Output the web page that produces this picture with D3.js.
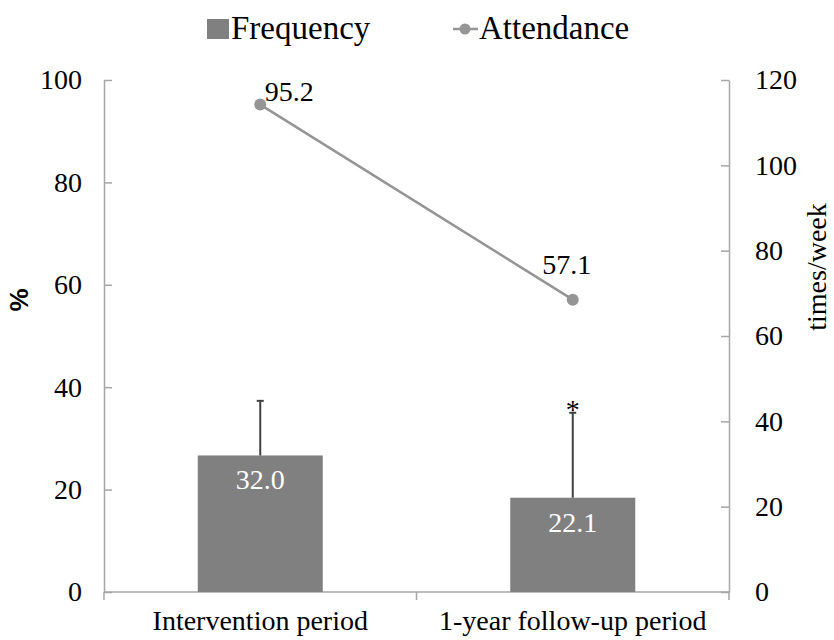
<!DOCTYPE html>
<html>
<head>
<meta charset="utf-8">
<script src="https://cdn.jsdelivr.net/npm/d3@7"></script>
<style>
  html, body { margin: 0; padding: 0; background: #fff; }
  svg { display: block; }
</style>
</head>
<body>
<svg id="chart" width="834" height="640"></svg>
<script>
// Data
const categories = ["Intervention period", "1-year follow-up period"];
const frequency = [32.0, 22.1];      // times/week (right axis)
const frequencySD = [12.8, 19.9];    // upper error bars
const attendance = [95.2, 57.1];     // % (left axis)
const significance = ["", "*"];
const leftTicks = [0, 20, 40, 60, 80, 100];
const rightTicks = [0, 20, 40, 60, 80, 100, 120];
const seriesNames = ["Frequency", "Attendance"];

// Layout
const serif = "'Liberation Serif', 'Times New Roman', serif";
const svg = d3.select("#chart").style("font-family", serif);
const plot = { left: 104, right: 729, top: 80, bottom: 592 };
const pointLabelOffset = [[29, -4], [-6, -26]];

const x = d3.scaleBand().domain(categories).range([plot.left, plot.right]).paddingInner(0.6).paddingOuter(0.3);
const xc = d3.scaleBand().domain(categories).range([plot.left, plot.right]);
const yL = d3.scaleLinear().domain([0, 100]).range([plot.bottom, plot.top]);
const yR = d3.scaleLinear().domain([0, 120]).range([plot.bottom, plot.top]);

const axisColor = "#a6a6a6";
const barColor = "#808080";
const lineColor = "#959595";

// Left axis (inner ticks)
const gL = svg.append("g").attr("transform", `translate(${plot.left},0)`)
  .call(d3.axisLeft(yL).tickValues(leftTicks).tickSizeInner(-8).tickSizeOuter(0).tickPadding(22));
// Right axis (inner ticks)
const gR = svg.append("g").attr("transform", `translate(${plot.right},0)`)
  .call(d3.axisRight(yR).tickValues(rightTicks).tickSizeInner(-8).tickSizeOuter(0).tickPadding(26));

[gL, gR].forEach(g => {
  g.attr("font-family", null).attr("font-size", null);
  g.select(".domain").attr("stroke", axisColor).attr("stroke-width", 1.5);
  g.selectAll(".tick line").attr("stroke", axisColor).attr("stroke-width", 1.5);
  g.selectAll(".tick text").style("font-family", serif).style("font-size", "28px").attr("fill", "#000");
});

// Category axis: baseline with ticks at category boundaries
const gX = svg.append("g").attr("transform", `translate(0,${plot.bottom})`);
gX.append("line").attr("x1", plot.left).attr("x2", plot.right).attr("y1", 0).attr("y2", 0)
  .attr("stroke", axisColor).attr("stroke-width", 1.5);
const bounds = categories.map(c => xc(c)).concat([plot.right]);
gX.selectAll("line.sep").data(bounds).join("line").attr("class", "sep")
  .attr("x1", d => d).attr("x2", d => d).attr("y1", 0).attr("y2", 8)
  .attr("stroke", axisColor).attr("stroke-width", 1.5);
gX.selectAll("text.cat").data(categories).join("text").attr("class", "cat")
  .attr("x", d => xc(d) + xc.bandwidth() / 2).attr("y", 38)
  .attr("text-anchor", "middle").style("font-size", "28px").attr("fill", "#000").text(d => d);

// Bars (frequency, right axis)
svg.selectAll("rect.bar").data(categories).join("rect").attr("class", "bar")
  .attr("x", d => x(d)).attr("width", x.bandwidth())
  .attr("y", (d, i) => yR(frequency[i])).attr("height", (d, i) => yR(0) - yR(frequency[i]))
  .attr("fill", barColor);

// Error bars
const cx = d => x(d) + x.bandwidth() / 2;
const eb = svg.selectAll("g.err").data(categories).join("g").attr("class", "err");
eb.append("line").attr("x1", cx).attr("x2", cx)
  .attr("y1", (d, i) => yR(frequency[i])).attr("y2", (d, i) => yR(frequency[i] + frequencySD[i]))
  .attr("stroke", "#404040").attr("stroke-width", 2);
eb.append("line").attr("x1", d => cx(d) - 3.5).attr("x2", d => cx(d) + 3.5)
  .attr("y1", (d, i) => yR(frequency[i] + frequencySD[i])).attr("y2", (d, i) => yR(frequency[i] + frequencySD[i]))
  .attr("stroke", "#404040").attr("stroke-width", 2);
svg.selectAll("text.sig").data(categories).join("text").attr("class", "sig")
  .attr("x", cx).attr("y", (d, i) => yR(frequency[i] + frequencySD[i]) + 6)
  .attr("text-anchor", "middle").style("font-size", "28px").attr("fill", "#000")
  .text((d, i) => significance[i]);

// Bar value labels
svg.selectAll("text.barlab").data(categories).join("text").attr("class", "barlab")
  .attr("x", cx).attr("y", (d, i) => yR(frequency[i]) + 34)
  .attr("text-anchor", "middle").style("font-size", "28px").attr("fill", "#fff")
  .text((d, i) => frequency[i].toFixed(1));

// Attendance line (left axis)
const line = d3.line().x(d => cx(d.c)).y(d => yL(d.v));
const pts = categories.map((c, i) => ({ c, v: attendance[i], i }));
svg.append("path").datum(pts).attr("d", line).attr("fill", "none")
  .attr("stroke", lineColor).attr("stroke-width", 2.5);
svg.selectAll("circle.pt").data(pts).join("circle").attr("class", "pt")
  .attr("cx", d => cx(d.c)).attr("cy", d => yL(d.v)).attr("r", 6).attr("fill", lineColor);
svg.selectAll("text.ptlab").data(pts).join("text").attr("class", "ptlab")
  .attr("x", d => cx(d.c) + pointLabelOffset[d.i][0]).attr("y", d => yL(d.v) + pointLabelOffset[d.i][1])
  .attr("text-anchor", "middle").style("font-size", "28px").attr("fill", "#000")
  .text(d => d.v.toFixed(1));

// Axis titles
svg.append("text").attr("transform", "translate(28,300) rotate(-90)")
  .attr("text-anchor", "middle").style("font-family", "'Liberation Sans', Arial, sans-serif")
  .style("font-weight", "bold").style("font-size", "26px").attr("fill", "#000").text("%");
svg.append("text").attr("transform", "translate(826,267) rotate(-90)")
  .attr("text-anchor", "middle").style("font-size", "28px").attr("fill", "#000").text("times/week");

// Legend
const lg = svg.append("g");
lg.append("rect").attr("x", 207).attr("y", 19).attr("width", 22).attr("height", 20).attr("fill", barColor);
lg.append("text").attr("x", 231).attr("y", 39).style("font-size", "33px").attr("fill", "#000").text(seriesNames[0]);
lg.append("line").attr("x1", 453).attr("x2", 478).attr("y1", 29).attr("y2", 29)
  .attr("stroke", lineColor).attr("stroke-width", 2.5);
lg.append("circle").attr("cx", 465).attr("cy", 29).attr("r", 5.5).attr("fill", lineColor);
lg.append("text").attr("x", 479).attr("y", 39).style("font-size", "33px").attr("fill", "#000").text(seriesNames[1]);
</script>
</body>
</html>
